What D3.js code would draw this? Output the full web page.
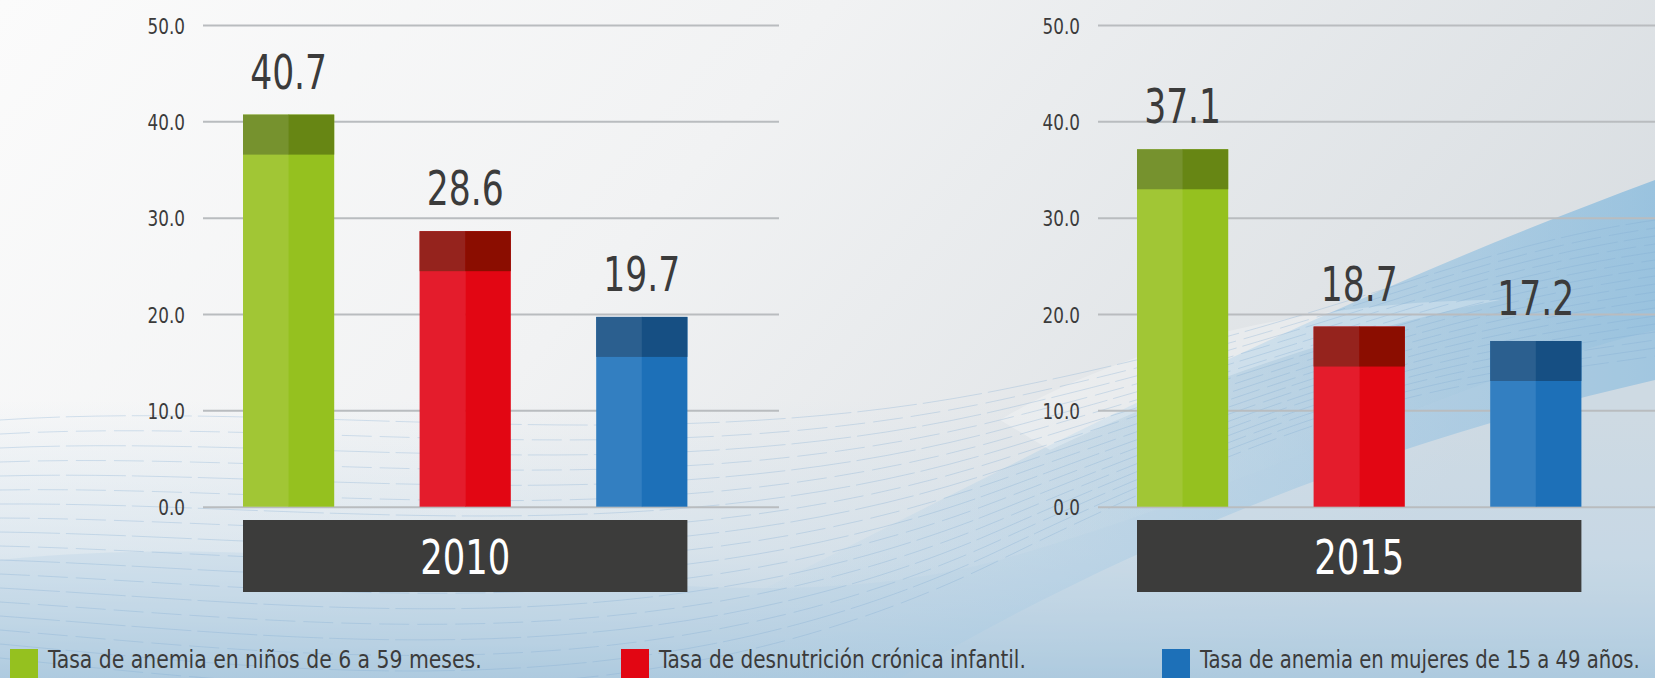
<!DOCTYPE html>
<html>
<head>
<meta charset="utf-8">
<script src="https://cdn.jsdelivr.net/npm/d3@7"></script>
<style>
  html, body { margin: 0; padding: 0; overflow: hidden; background: #eef0f2; }
  svg { display: block; }
  .cond { font-family: "DejaVu Sans Condensed", "DejaVu Sans", sans-serif; font-stretch: condensed; }
</style>
</head>
<body>
<svg id="chart" width="1655" height="678"></svg>
<script>
// ---------------- DATA ----------------
const categories = [
  "Tasa de anemia en niños de 6 a 59 meses.",
  "Tasa de desnutrición crónica infantil.",
  "Tasa de anemia en mujeres de 15 a 49 años."
];
const years = ["2010", "2015"];
const values2010 = [40.7, 28.6, 19.7];
const values2015 = [37.1, 18.7, 17.2];
const yTickValues = [0, 10, 20, 30, 40, 50];
const yTickLabels = ["0.0", "10.0", "20.0", "30.0", "40.0", "50.0"];

// ---------------- STYLE ----------------
const palette = [
  { light: "#a1c635", main: "#95c11f", bandL: "#76922e", bandR: "#678614", legend: "#95c11f" },
  { light: "#e41c2c", main: "#e20613", bandL: "#95231d", bandR: "#8b0d00", legend: "#e20613" },
  { light: "#337fc1", main: "#1d70b8", bandL: "#2b5f8f", bandR: "#164f83", legend: "#1d70b8" }
];
const W = 1655, H = 678;
const textColor = "#3b3b3b";

const svg = d3.select("#chart");

// ---------------- BACKGROUND ----------------
const defs = svg.append("defs");
const g1 = defs.append("linearGradient").attr("id", "bgA").attr("x1", 0).attr("y1", 0).attr("x2", 1).attr("y2", 0.35);
g1.append("stop").attr("offset", 0).attr("stop-color", "#fbfbfb");
g1.append("stop").attr("offset", 0.45).attr("stop-color", "#f1f2f3");
g1.append("stop").attr("offset", 1).attr("stop-color", "#d9dee2");
svg.append("rect").attr("width", W).attr("height", H).attr("fill", "url(#bgA)");

const g2 = defs.append("linearGradient").attr("id", "bgB").attr("x1", 0).attr("y1", 0).attr("x2", 0).attr("y2", 1);
g2.append("stop").attr("offset", 0).attr("stop-color", "#c9dceb").attr("stop-opacity", 0);
g2.append("stop").attr("offset", 0.55).attr("stop-color", "#c5d9e8").attr("stop-opacity", 0.5);
g2.append("stop").attr("offset", 1).attr("stop-color", "#a7c6dc").attr("stop-opacity", 0.95);
svg.append("rect").attr("x", 0).attr("y", 400).attr("width", W).attr("height", H - 400).attr("fill", "url(#bgB)");

// blue wave band on the right
const g3 = defs.append("linearGradient").attr("id", "bgC").attr("x1", 0).attr("y1", 0).attr("x2", 1).attr("y2", 0);
g3.append("stop").attr("offset", 0).attr("stop-color", "#9cc6e4").attr("stop-opacity", 0);
g3.append("stop").attr("offset", 0.5).attr("stop-color", "#8cbfe2").attr("stop-opacity", 0.35);
g3.append("stop").attr("offset", 1).attr("stop-color", "#6fb0dc").attr("stop-opacity", 0.6);
svg.append("path")
  .attr("d", "M700,620 C950,500 1250,330 1655,180 L1655,380 C1350,450 1100,560 900,678 L700,678 Z")
  .attr("fill", "url(#bgC)");
svg.append("path")
  .attr("d", "M1000,420 C1150,330 1350,300 1500,300 C1350,330 1200,380 1050,450 Z")
  .attr("fill", "#ffffff").attr("opacity", 0.25);
svg.append("path")
  .attr("d", "M0,560 C400,520 700,640 1000,560 C1250,490 1450,380 1655,330 L1655,678 L0,678 Z")
  .attr("fill", "#b6d2e6").attr("opacity", 0.3);

// faint wave lines
const waveG = svg.append("g").attr("fill", "none").attr("stroke", "#7fa9cf").attr("stroke-width", 1);
d3.range(18).forEach(i => {
  const y0 = 420 + i * 14;
  waveG.append("path")
    .attr("d", `M0,${y0} C300,${y0 - 20 + i * 3} 650,${y0 + 40 + i * 2} 1000,${y0 - 30 - i * 4} S1450,${y0 - 170 - i * 6} 1655,${y0 - 200 - i * 6}`)
    .attr("stroke-dasharray", i % 2 ? "30 8" : "60 6")
    .attr("opacity", 0.3);
});

// ---------------- CHARTS ----------------
const y = d3.scaleLinear().domain([0, 50]).range([506.7, 25]);
const capH = 40; // darker top band height (px)

const panels = [
  { year: years[0], values: values2010, axisX: 203, gridEnd: 779, bandStart: 243 },
  { year: years[1], values: values2015, axisX: 1098, gridEnd: 1655, bandStart: 1137 }
];

const step = 176.6, barW = 91.2;

function condText(sel, x, yy, size, sx, anchor, fill, txt) {
  return sel.append("text")
    .attr("class", "cond")
    .attr("transform", `translate(${x},${yy}) scale(${sx},1)`)
    .attr("text-anchor", anchor)
    .attr("fill", fill)
    .style("font-size", size + "px")
    .text(txt);
}

panels.forEach(p => {
  const g = svg.append("g");
  const x = d3.scaleBand()
    .domain(categories)
    .range([p.bandStart, p.bandStart + 2 * step + barW])
    .paddingInner((step - barW) / step)
    .paddingOuter(0);

  // gridlines via axis
  const grid = g.append("g")
    .attr("transform", `translate(${p.axisX},0)`)
    .call(d3.axisLeft(y).tickValues(yTickValues).tickSize(-(p.gridEnd - p.axisX)).tickFormat("").tickPadding(18));
  grid.select(".domain").remove();
  grid.selectAll(".tick line").attr("stroke", "#b9bcbf").attr("stroke-width", 2);
  grid.selectAll(".tick").each(function (d, i) {
    condText(d3.select(this), -18, 8, 22, 0.85, "end", textColor, yTickLabels[i]);
  });

  // bars
  const bars = g.selectAll(".bar").data(p.values).join("g").attr("class", "bar");
  const half = x.bandwidth() / 2;
  bars.each(function (v, i) {
    const bg = d3.select(this);
    const x0 = x(categories[i]);
    const top = y(v), base = y(0);
    const c = palette[i];
    bg.append("rect").attr("x", x0).attr("y", top).attr("width", half + 0.5).attr("height", base - top).attr("fill", c.light);
    bg.append("rect").attr("x", x0 + half).attr("y", top).attr("width", half).attr("height", base - top).attr("fill", c.main);
    bg.append("rect").attr("x", x0).attr("y", top).attr("width", half + 0.5).attr("height", capH).attr("fill", c.bandL);
    bg.append("rect").attr("x", x0 + half).attr("y", top).attr("width", half).attr("height", capH).attr("fill", c.bandR);
    condText(bg, x0 + half, top - 26, 48, 0.8, "middle", textColor, v.toFixed(1));
  });

  // year box
  const bx0 = x(categories[0]), bx1 = x(categories[2]) + x.bandwidth();
  g.append("rect").attr("x", bx0).attr("y", 520).attr("width", bx1 - bx0).attr("height", 72).attr("fill", "#3c3c3b");
  condText(g, (bx0 + bx1) / 2, 574, 48, 0.82, "middle", "#ffffff", p.year);
});

// ---------------- LEGEND ----------------
const legendX = [10, 621, 1162];
const legendW = [434, 367, 440];
const lg = svg.append("g");
categories.forEach((c, i) => {
  const item = lg.append("g").attr("transform", `translate(${legendX[i]},649)`);
  item.append("rect").attr("width", 28).attr("height", 29).attr("fill", palette[i].legend);
  const t = item.append("text")
    .attr("class", "cond")
    .attr("fill", textColor)
    .style("font-size", "24px")
    .text(c);
  const natural = t.node().getComputedTextLength();
  t.attr("transform", `translate(38,19) scale(${legendW[i] / natural},1)`);
});
</script>
</body>
</html>
